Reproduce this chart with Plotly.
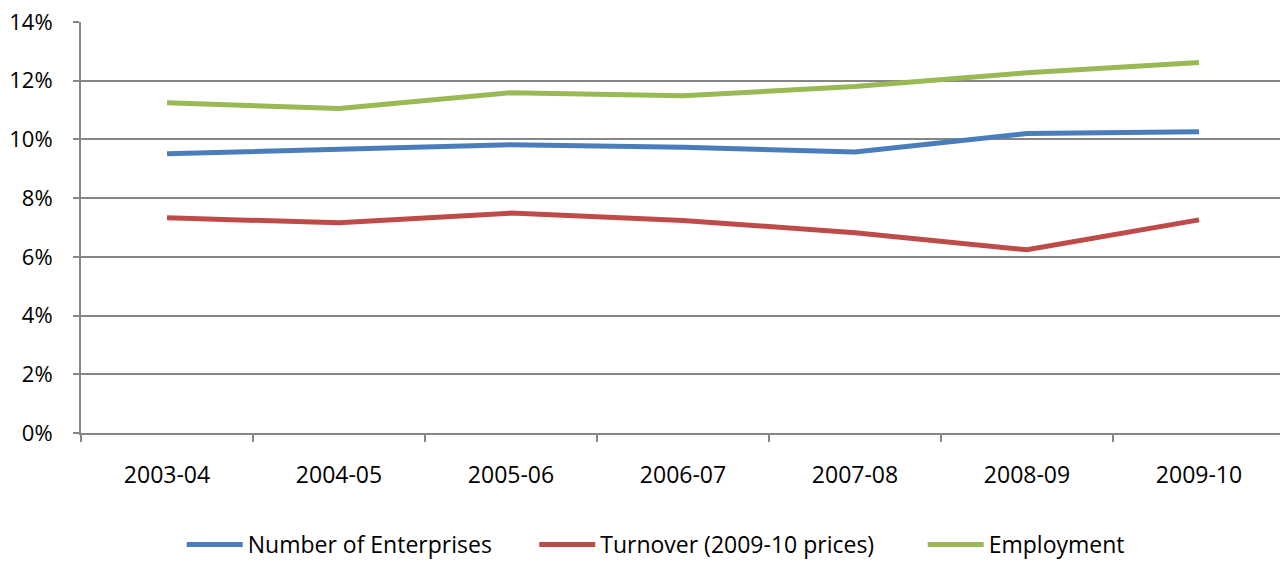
import plotly.graph_objects as go

years = ["2003-04", "2004-05", "2005-06", "2006-07", "2007-08", "2008-09", "2009-10"]
enterprises = [9.51, 9.66, 9.82, 9.73, 9.57, 10.20, 10.26]
turnover = [7.33, 7.16, 7.49, 7.24, 6.82, 6.24, 7.26]
employment = [11.25, 11.05, 11.59, 11.49, 11.80, 12.27, 12.62]

series = [
    ("Number of Enterprises", enterprises, "#4A7EBB", "legend", 0.084, 270),
    ("Turnover (2009-10 prices)", turnover, "#BE4B48", "legend2", 0.378, 310),
    ("Employment", employment, "#98B954", "legend3", 0.702, 170),
]

fig = go.Figure()
for name, vals, color, leg, _, _ in series:
    fig.add_trace(go.Scatter(
        x=years, y=vals, name=name, mode="lines",
        line=dict(color=color, width=5), legend=leg,
    ))

font_family = "Open Sans, sans-serif"
legend_layout = {}
for name, vals, color, leg, xpos, ew in series:
    legend_layout[leg] = dict(
        orientation="h", x=xpos, xanchor="left", xref="paper",
        y=-0.3236, yanchor="bottom", font=dict(size=23),
        itemwidth=56, bgcolor="rgba(0,0,0,0)",
        entrywidth=ew, entrywidthmode="pixels",
    )

fig.update_layout(
    width=1280, height=566,
    margin=dict(l=81, r=0, t=22, b=133, autoexpand=False),
    paper_bgcolor="white", plot_bgcolor="white",
    font=dict(family=font_family, color="black"),
    showlegend=True,
    **legend_layout,
)
fig.update_xaxes(
    type="category", range=[-0.5, 6.471], automargin=False,
    showline=True, linecolor="#868686", linewidth=2,
    ticks="outside", ticklen=7, tickcolor="#868686", tickwidth=1.5,
    tickson="boundaries", showgrid=False,
    tickfont=dict(size=23), ticklabelstandoff=20,
)
fig.update_yaxes(
    range=[0, 14], dtick=2, ticksuffix="%", automargin=False,
    showline=True, linecolor="#868686", linewidth=2,
    ticks="outside", ticklen=6, tickcolor="#868686", tickwidth=1.5,
    showgrid=True, gridcolor="#868686", gridwidth=1.5,
    zeroline=False, tickfont=dict(size=22), ticklabelstandoff=16,
)

fig.write_html("out.html")
